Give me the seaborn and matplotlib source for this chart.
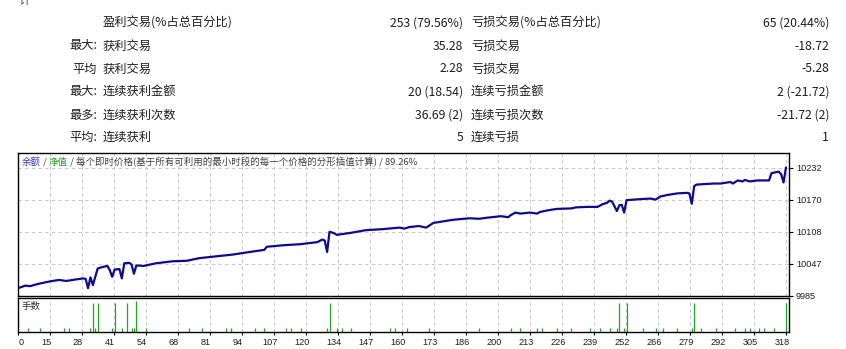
import matplotlib
matplotlib.use("Agg")
import matplotlib.pyplot as plt
import numpy as np
import pandas as pd
import seaborn as sns

# report rows (left / right half)
left_prefix = ["", "最大:", "平均", "最大:", "最多:", "平均:"]
left_names = ["盈利交易(%占总百分比)", "获利交易", "获利交易", "连续获利金额", "连续获利次数", "连续获利"]
left_values = ["253 (79.56%)", "35.28", "2.28", "20 (18.54)", "36.69 (2)", "5"]
right_names = ["亏损交易(%占总百分比)", "亏损交易", "亏损交易", "连续亏损金额", "连续亏损次数", "连续亏损"]
right_values = ["65 (20.44%)", "-18.72", "-5.28", "2 (-21.72)", "-21.72 (2)", "1"]

# balance curve (trade number -> balance)
trade_no = [0, 3, 5, 8, 13, 17, 20, 24, 27, 28, 29, 30, 31, 33, 35, 37, 38, 39, 40, 42,
            43, 44, 46, 47, 48, 49, 52, 57, 64, 70, 75, 81, 89, 96, 102, 103, 110, 117, 124, 126,
            127, 128, 129, 131, 132, 138, 144, 151, 158, 160, 162, 166, 169, 172, 180, 187, 191, 194, 200, 203,
            204, 206, 208, 212, 215, 216, 219, 223, 229, 231, 236, 240, 242, 244, 245, 246, 248, 249, 250, 251,
            252, 258, 262, 264, 266, 269, 273, 277, 278, 279, 280, 281, 288, 291, 295, 296, 298, 300, 301, 303,
            306, 311, 312, 315, 316, 317, 318]
balance = [10000, 10005, 10004, 10008, 10013, 10016, 10014, 10017, 10019, 10018, 10000, 10021, 10006, 10038, 10041, 10043, 10035, 10022, 10036, 10037,
           10019, 10048, 10049, 10046, 10028, 10044, 10043, 10048, 10052, 10053, 10058, 10061, 10065, 10070, 10074, 10080, 10083, 10085, 10089, 10094,
           10092, 10070, 10109, 10106, 10103, 10107, 10112, 10114, 10117, 10115, 10118, 10120, 10117, 10126, 10132, 10135, 10134, 10136, 10139, 10137,
           10141, 10146, 10144, 10146, 10144, 10147, 10150, 10153, 10154, 10156, 10157, 10157, 10162, 10165, 10169, 10167, 10149, 10160, 10161, 10146,
           10170, 10172, 10173, 10171, 10177, 10180, 10183, 10184, 10183, 10163, 10197, 10200, 10202, 10202, 10205, 10202, 10208, 10206, 10209, 10206,
           10208, 10208, 10222, 10225, 10220, 10204, 10233]

# lot sizes per trade
lot_trades = [4, 9, 19, 21, 30, 31, 32, 33, 39, 40, 43, 45, 47, 48, 49, 53, 71, 76, 86, 88,
              98, 102, 111, 113, 117, 128, 129, 132, 134, 138, 154, 156, 161, 170, 191, 204, 208, 215, 217, 223,
              229, 237, 241, 245, 248, 249, 251, 252, 259, 264, 267, 273, 279, 280, 283, 289, 297, 301, 303, 307,
              309, 313, 318]
lot_sizes = [0.01, 0.01, 0.01, 0.01, 0.01, 0.07, 0.01, 0.07, 0.01, 0.07, 0.01, 0.07, 0.01, 0.01, 0.075, 0.01, 0.01, 0.01, 0.01, 0.01,
             0.01, 0.01, 0.01, 0.01, 0.01, 0.01, 0.07, 0.01, 0.01, 0.01, 0.01, 0.01, 0.01, 0.01, 0.01, 0.01, 0.01, 0.01, 0.01, 0.01,
             0.01, 0.01, 0.01, 0.01, 0.01, 0.07, 0.01, 0.07, 0.01, 0.01, 0.01, 0.01, 0.01, 0.07, 0.01, 0.01, 0.01, 0.01, 0.01, 0.01,
             0.01, 0.01, 0.07]

x_labels = ["0", "15", "28", "41", "54", "68", "81", "94", "107", "120", "134", "147", "160",
            "173", "186", "200", "213", "226", "239", "252", "266", "279", "292", "305", "318"]
y_ticks = [9985, 10046.75, 10108.5, 10170.25, 10232]
y_labels = ["9985", "10047", "10108", "10170", "10232"]

sns.set_theme(style="white")
plt.rcParams["font.family"] = ["Noto Sans CJK SC", "DejaVu Sans"]

W, H = 846, 349
fig = plt.figure(figsize=(W / 100, H / 100), dpi=100)
fig.patch.set_facecolor("white")


def fx(px):
    return px / W


def fy(py):
    return 1 - py / H


txt_col = "#1e1e1e"

# table of stats
rows_y = [22.7, 46, 69, 91.7, 115, 137.3]
for i, y in enumerate(rows_y):
    fig.text(fx(97), fy(y), left_prefix[i], ha="right", va="center", fontsize=8.8, color=txt_col)
    fig.text(fx(103), fy(y), left_names[i], ha="left", va="center", fontsize=8.8, color=txt_col)
    fig.text(fx(463), fy(y), left_values[i], ha="right", va="center", fontsize=8.8, color=txt_col)
    fig.text(fx(471), fy(y), right_names[i], ha="left", va="center", fontsize=8.8, color=txt_col)
    fig.text(fx(829), fy(y), right_values[i], ha="right", va="center", fontsize=8.8, color=txt_col)

# clipped heading remnant at the very top
fig.text(fx(18), fy(4), "计", ha="left", va="baseline", fontsize=8.8, color="#555555")

df = pd.DataFrame({"trade": trade_no, "balance": balance})

ax = fig.add_axes([fx(18), fy(296), (789 - 18) / W, (296 - 153) / H])
ax2 = fig.add_axes([fx(18), fy(332), (789 - 18) / W, (332 - 298) / H])

xmax = 771 / 2.415
grid_x = [i * 13.25 for i in range(25)]

sns.lineplot(data=df, x="trade", y="balance", ax=ax, color="#0c0c8c", lw=1.6,
             estimator=None, sort=False)
ax.set_xlim(0, xmax)
ax.set_ylim(9985, 9985 + 143 * 61.75 / 32)
ax.set_xticks(grid_x)
ax.set_xticklabels([])
ax.tick_params(axis="x", length=0)
ax.yaxis.tick_right()
ax.set_yticks(y_ticks)
ax.set_yticklabels(y_labels)
ax.tick_params(axis="y", right=True, length=3, width=0.8, pad=2, labelsize=6.6,
               labelcolor=txt_col, color="black")
for lab in ax.get_yticklabels():
    lab.set_fontfamily("Liberation Sans")
ax.set_xlabel("")
ax.set_ylabel("")
ax.grid(True, color="#c8c8c8", ls=(0, (3, 3)), lw=0.8)

# title in the chart corner, coloured pieces
pieces = [("余额", "#2b3bb5"), (" / ", "#404040"), ("净值", "#22a022"),
          (" / 每个即时价格(基于所有可利用的最小时段的每一个价格的分形插值计算) / 89.26%", "#404040")]
t = ax.text(4 / 771, 1 - 9 / 143, pieces[0][0], transform=ax.transAxes, ha="left", va="center",
            fontsize=6.8, color=pieces[0][1])
for s, c in pieces[1:]:
    t = ax.annotate(s, xy=(1, 0.5), xycoords=t, ha="left", va="center", fontsize=6.8, color=c)

# lots panel
ax2.vlines(lot_trades, 0, lot_sizes, color="#22a522", lw=0.9)
ax2.set_xlim(0, xmax)
ax2.set_ylim(0, 0.0812)
ax2.set_yticks([])
lab_pos = [g - 1.66 for g in grid_x]
lab_pos[0] = 1.5
ax2.set_xticks(lab_pos)
ax2.set_xticklabels(x_labels)
ax2.set_xticks(grid_x, minor=True)
ax2.tick_params(axis="x", which="major", length=0, pad=4, labelsize=6.6, labelcolor=txt_col)
ax2.tick_params(axis="x", which="minor", bottom=True, length=2.5, width=0.8, color="black")
for lab in ax2.get_xticklabels():
    lab.set_fontfamily("Liberation Sans")
ax2.grid(False)
ax2.grid(True, which="minor", axis="x", color="#c8c8c8", ls=(0, (3, 3)), lw=0.8)
ax2.text(4 / 771, 1 - 8 / 34, "手数", transform=ax2.transAxes, ha="left", va="center",
         fontsize=6.8, color="#303030")

for a in (ax, ax2):
    for sp in a.spines.values():
        sp.set_visible(True)
        sp.set_color("black")
        sp.set_linewidth(1.0)
    a.set_facecolor("white")

fig.savefig("out.png", dpi=100)
